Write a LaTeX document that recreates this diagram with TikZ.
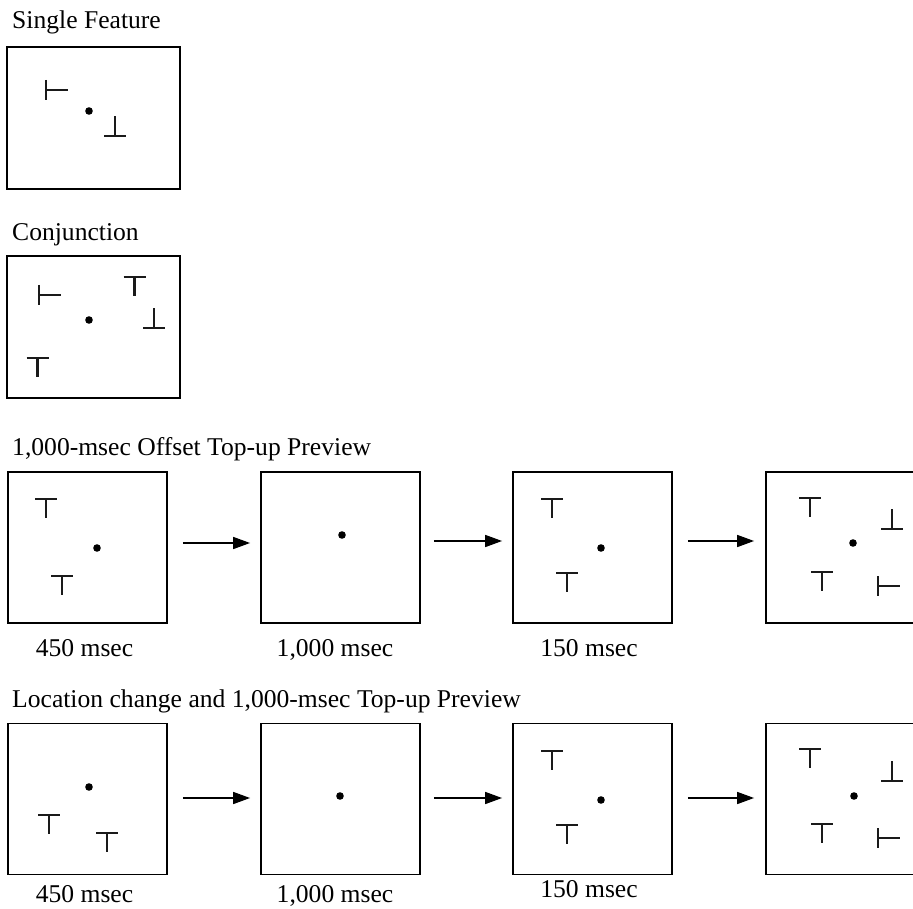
\documentclass[tikz,border=0pt]{standalone}
\usepackage{fontspec}
\setmainfont{Liberation Serif}
\usetikzlibrary{arrows.meta}
\definecolor{symcol}{HTML}{1A1A1A}
\tikzset{
  frame/.style={draw=black, line width=1.8pt, inner sep=0pt, minimum width=159pt, minimum height=151pt},
  smallframe/.style={draw=black, line width=1.8pt, inner sep=0pt, minimum width=173pt, minimum height=142pt},
  sym/.style={draw=symcol, line width=2.8pt},
  lbl/.style={inner sep=0pt, anchor=base, font=\fontsize{25.6}{30}\selectfont},
  ttl/.style={inner sep=0pt, anchor=base west, font=\fontsize{25.6}{30}\selectfont},
  arr/.style={line width=1.6pt, -{Triangle[length=17pt,width=12pt]}},
  tee/.pic={\draw[sym] (-11,0) -- (11,0) (0,0) -- (0,19);},
  lefttee/.pic={\draw[sym] (0,-10) -- (0,10) (0,0) -- (22,0);},
  uptee/.pic={\draw[sym] (-11,0) -- (11,0) (0,0) -- (0,-20);},
  fix/.pic={\fill[black] (0,0) circle (3.8pt);}
}
\begin{document}
\begin{tikzpicture}[x=1pt, y=-1pt]
\useasboundingbox (0,0) rectangle (913,909);
\clip (0,0) rectangle (913,909);

% Row 1
\node[ttl] (t1) at (12,29) {Single Feature};
\node[smallframe] (b1) at (93.5,118) {};
\pic at (46,90) {lefttee};
\pic at (89,111) {fix};
\pic at (115,136) {uptee};

% Row 2
\node[ttl] (t2) at (12,241) {Conjunction};
\node[smallframe] (b2) at (93.5,327) {};
\pic at (39,295) {lefttee};
\pic at (89,320) {fix};
\pic at (134.5,277) {tee};
\pic at (154,328) {uptee};
\pic at (37.5,358) {tee};

% Row 3
\node[ttl] (t3) at (12,455) {1,000-msec Offset Top-up Preview};
\node[frame] (b31) at (87.5,547.5) {};
\node[frame] (b32) at (340.5,547.5) {};
\node[frame] (b33) at (592.5,547.5) {};
\node[frame] (b34) at (845.5,547.5) {};
\pic at (46,499) {tee};
\pic at (97,548) {fix};
\pic at (62,576) {tee};
\pic at (342,535) {fix};
\pic at (552,499) {tee};
\pic at (601,548) {fix};
\pic at (567,573) {tee};
\pic at (810,498) {tee};
\pic at (892,529) {uptee};
\pic at (853,543) {fix};
\pic at (822,572) {tee};
\pic at (878,586) {lefttee};
\draw[arr] ([xshift=15pt,yshift=4.5pt]b31.east) -- ([xshift=-10pt,yshift=4.5pt]b32.west);
\draw[arr] ([xshift=13pt,yshift=6.5pt]b32.east) -- ([xshift=-10pt,yshift=6.5pt]b33.west);
\draw[arr] ([xshift=15pt,yshift=6.5pt]b33.east) -- ([xshift=-11pt,yshift=6.5pt]b34.west);
\node[lbl] (l31) at (84.5,656) {450 msec};
\node[lbl] (l32) at (335,656) {1,000 msec};
\node[lbl] (l33) at (589,656) {150 msec};

% Row 4
\node[ttl] (t4) at (12,707) {Location change and 1,000-msec Top-up Preview};
\node[frame] (b41) at (87.5,799) {};
\node[frame] (b42) at (340.5,799) {};
\node[frame] (b43) at (592.5,799) {};
\node[frame] (b44) at (845.5,799) {};
\pic at (89,787) {fix};
\pic at (49,815) {tee};
\pic at (107,833) {tee};
\pic at (340,796) {fix};
\pic at (552,751) {tee};
\pic at (601,800) {fix};
\pic at (567,825) {tee};
\pic at (810,749) {tee};
\pic at (892,781) {uptee};
\pic at (854,796) {fix};
\pic at (822,824) {tee};
\pic at (878,838) {lefttee};
\draw[arr] ([xshift=15pt,yshift=1pt]b41.east) -- ([xshift=-10pt,yshift=1pt]b42.west);
\draw[arr] ([xshift=13pt,yshift=1pt]b42.east) -- ([xshift=-10pt,yshift=1pt]b43.west);
\draw[arr] ([xshift=15pt,yshift=1pt]b43.east) -- ([xshift=-11pt,yshift=1pt]b44.west);
\node[lbl] (l41) at (84.5,902) {450 msec};
\node[lbl] (l42) at (335,902) {1,000 msec};
\node[lbl] (l43) at (589,897) {150 msec};
\end{tikzpicture}
\end{document}
